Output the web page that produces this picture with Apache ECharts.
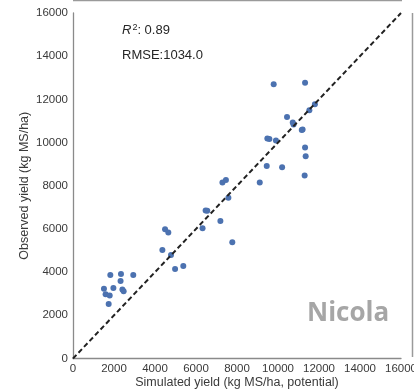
<!DOCTYPE html>
<html>
<head>
<meta charset="utf-8">
<script src="https://cdn.jsdelivr.net/npm/echarts@6/dist/echarts.min.js"></script>
<style>
  html, body { margin: 0; padding: 0; background: #fff; }
  #chart { width: 414px; height: 391px; }
</style>
</head>
<body>
<div id="chart"></div>
<script>
// simulated (x) vs observed (y), kg MS/ha
const simulated = [
  1510, 1590, 1790, 1740, 1820, 1970, 2340, 2320, 2410, 2470, 2940,
  4360, 4490, 4650, 4780, 4980, 5380, 7770, 6320, 7190, 6470, 6550,
  7580, 7290, 7460, 9110, 9450, 10200, 9480, 9580, 9900, 9790, 11320,
  11800, 11530, 10440, 10720, 10760, 11200, 11160, 11320, 11350, 11300
];
const observed = [
  3230, 2970, 2920, 2520, 3870, 3260, 3910, 3590, 3200, 3120, 3870,
  5030, 5980, 5830, 4790, 4140, 4280, 5380, 6030, 6370, 6850, 6840,
  7440, 8150, 8270, 8150, 8920, 8860, 10190, 10170, 10100, 12700, 12770,
  11770, 11500, 11180, 10930, 10840, 10610, 10580, 9770, 9370, 8470
];
const oneToOne = [[0, 0], [16000, 16000]];
const axisTicks = [0, 2000, 4000, 6000, 8000, 10000, 12000, 14000, 16000];

const points = simulated.map((x, i) => [x, observed[i]]);

const chart = echarts.init(document.getElementById("chart"));

const axisCommon = {
  type: "value",
  min: axisTicks[0],
  max: axisTicks[axisTicks.length - 1],
  interval: axisTicks[1] - axisTicks[0],
  nameLocation: "middle",
  nameMoveOverlap: false,
  nameTextStyle: { color: "#3a3a3a", fontSize: 12.5, fontFamily: "Liberation Sans" },
  axisLine: { lineStyle: { color: "#8a8a8a", width: 1.3 } },
  axisTick: { show: false },
  splitLine: { show: false },
  axisLabel: {
    color: "#3a3a3a",
    fontSize: 11.5,
    fontFamily: "Liberation Sans",
    formatter: (v) => String(v),
  },
};

const option = {
  animation: false,
  grid: { left: 73, right: 13, top: 13, bottom: 32.5, outerBoundsMode: "none" },
  xAxis: {
    ...axisCommon,
    name: "Simulated yield (kg MS/ha, potential)",
    nameGap: 18,
    axisLabel: { ...axisCommon.axisLabel, margin: 4 },
  },
  yAxis: {
    ...axisCommon,
    name: "Observed yield (kg MS/ha)",
    nameGap: 42,
    axisLabel: { ...axisCommon.axisLabel, margin: 5 },
  },
  series: [
    {
      type: "line",
      data: oneToOne,
      symbol: "none",
      lineStyle: { color: "#222", width: 2, type: [5, 3] },
      z: 3,
    },
    {
      type: "scatter",
      data: points,
      symbolSize: 6,
      itemStyle: { color: "#4c72b0", opacity: 1 },
      z: 2,
    },
  ],
  graphic: [
    {
      type: "text",
      left: 122,
      top: 23,
      style: {
        text: "{i|R}{s|2}: 0.89",
        rich: {
          i: { fontStyle: "italic", fontSize: 13, fontFamily: "Liberation Sans", fill: "#262626" },
          s: { fontSize: 9, fontFamily: "Liberation Sans", fill: "#262626", verticalAlign: "top", padding: [0, 0, 5, 1] },
        },
        fontSize: 13,
        fontFamily: "Liberation Sans",
        fill: "#262626",
      },
    },
    {
      type: "text",
      left: 122,
      top: 49,
      style: { text: "RMSE:1034.0", fontSize: 13, fontFamily: "Liberation Sans", fill: "#262626" },
    },
    {
      type: "text",
      left: 307,
      top: 301,
      style: { text: "Nicola", fontSize: 26, fontWeight: "bold", fontFamily: "Open Sans", fill: "#a6a6a6" },
    },
    {
      type: "line",
      shape: { x1: 73, y1: 0.5, x2: 402, y2: 0.5 },
      style: { stroke: "#9a9a9a", lineWidth: 1.5 },
    },
    {
      type: "line",
      shape: { x1: 412.5, y1: 13, x2: 412.5, y2: 357 },
      style: { stroke: "#9a9a9a", lineWidth: 1.5 },
    },
  ],
};

chart.setOption(option);
window.onresize = function () {
  chart.resize();
};
</script>
</body>
</html>
